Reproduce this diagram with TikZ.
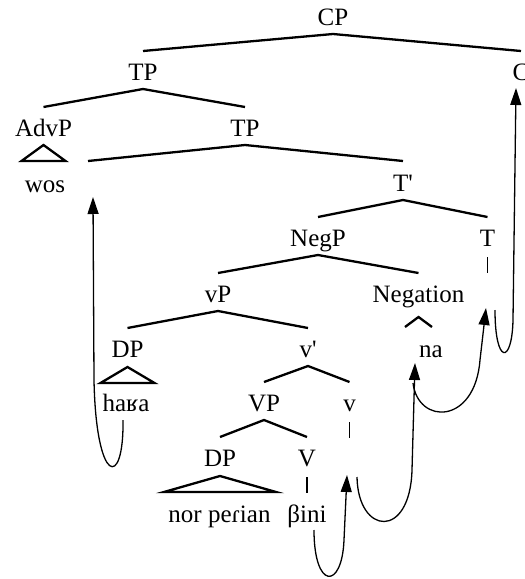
\documentclass[tikz,border=0pt]{standalone}
\usepackage{fontspec}
\setmainfont{Liberation Serif}[Ligatures=TeXOff]
\usetikzlibrary{calc,arrows.meta}
\tikzset{
  tree/.style={line width=2.3pt},
  mv/.style={line width=1.3pt,-{Triangle[length=17pt,width=11pt]}},
  lab/.style={anchor=base,inner sep=0pt,font=\fontsize{25}{29}\selectfont},
}
\newcommand\twobr[3]{\draw[tree] ($(#2.base)+(0,-29)$) -- ($(#1.base)+(0,9)$) -- ($(#3.base)+(0,-29)$);}
\newcommand\tri[2]{\draw[tree,line join=miter] ($(#1.base)+(0,10)$) -- ($(#1.base)+(#2,26)$) -- ($(#1.base)+(-#2,26)$) -- cycle;}
\newcommand\vbar[1]{\draw[line width=1.3pt] ($(#1.base)+(0,11)$) -- ($(#1.base)+(0,27)$);}
\begin{document}
\begin{tikzpicture}[x=1pt,y=-1pt]
\useasboundingbox (0,0) rectangle (525,579);
\clip (0,0) rectangle (525,579);
% nodes
\node[lab] (CP) at (333,25) {CP};
\node[lab] (TP1) at (143,80) {TP};
\node[lab] (C) at (521,80) {C};
\node[lab] (AdvP) at (43.5,136) {AdvP};
\node[lab] (TP2) at (245,136) {TP};
\node[lab] (wos) at (45,192) {wos};
\node[lab,inner sep=0pt] (spec) at (88,190) {};
\node[lab] (Tbar) at (403,191) {T'};
\node[lab] (NegP) at (318,246) {NegP};
\node[lab] (T) at (487.5,246) {T};
\node[lab] (vP) at (218,302) {vP};
\node[lab] (Neg) at (418.5,302) {Negation};
\node[lab] (DP1) at (127.5,357) {DP};
\node[lab] (vbar) at (308,357) {v'};
\node[lab] (na) at (431,357) {na};
\node[lab] (haga) at (126,411) {haʁa};
\node[lab] (VP) at (264,411) {VP};
\node[lab] (v) at (349.5,411) {v};
\node[lab] (DP2) at (220,466) {DP};
\node[lab] (V) at (307,466) {V};
\node[lab] (norp) at (219.5,522) {nor peɾian};
\node[lab] (bini) at (307,522) {βini};
% branches
\twobr{CP}{TP1}{C}
\twobr{TP1}{AdvP}{TP2}
\draw[tree] ($(spec.base)+(0,-29)$) -- ($(TP2.base)+(0,9)$) -- ($(Tbar.base)+(0,-30)$);
\twobr{Tbar}{NegP}{T}
\twobr{NegP}{vP}{Neg}
\twobr{vP}{DP1}{vbar}
\twobr{vbar}{VP}{v}
\twobr{VP}{DP2}{V}
% triangles and bars
\draw[tree,line join=miter] ($(AdvP.base)+(0,9)$) -- ($(AdvP.base)+(22,25)$) -- ($(AdvP.base)+(-22,25)$) -- cycle;
\tri{DP1}{27}
\tri{DP2}{56}
\draw[tree] ($(Neg.base)+(-13.5,25)$) -- ($(Neg.base)+(0,15)$) -- ($(Neg.base)+(13.5,25)$);
\vbar{T}
\vbar{v}
\vbar{V}
% movement arrows
\coordinate (hagaS) at (123,420);
\coordinate (specT) at (93,197);
\coordinate (biniS) at (314,530);
\coordinate (vT) at (347,475);
\coordinate (vS) at (357,477);
\coordinate (naT) at (415,363);
\coordinate (naS) at (413,383);
\coordinate (TT) at (486,308);
\coordinate (TS) at (495,310);
\coordinate (CT) at (516,88);
\draw[mv] (hagaS) .. controls (124,490) and (96,485) .. (94,380) -- (specT);
\draw[mv] (biniS) .. controls (314,590) and (342,590) .. (344,540) -- (vT);
\draw[mv] (vS) .. controls (358,535) and (410,540) .. (412,470) -- (naT);
\draw[mv] (naS) .. controls (418,425) and (475,425) .. (480,360) -- (TT);
\draw[mv] (TS) .. controls (495,365) and (512,365) .. (513,320) -- (CT);
\end{tikzpicture}
\end{document}
